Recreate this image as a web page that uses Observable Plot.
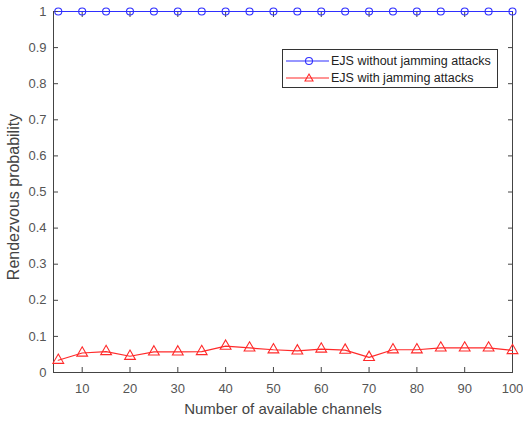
<!DOCTYPE html>
<html>
<head>
<meta charset="utf-8">
<script src="https://cdn.jsdelivr.net/npm/d3@7"></script>
<script src="https://cdn.jsdelivr.net/npm/@observablehq/plot@0.6"></script>
<style>
  html, body { margin: 0; padding: 0; background: #fff; }
  #wrap { position: relative; width: 523px; height: 422px; font-family: "Liberation Sans", Arial, sans-serif; }
  #legend { position: absolute; left: 282px; top: 49px; width: 216px; height: 39px; border: 1px solid #333; background: #fff; box-sizing: border-box; font-size: 12.5px; color: #222; }
  .row { position: absolute; left: 2px; height: 16px; display: flex; align-items: center; }
  .row svg { margin-right: 2px; }
</style>
</head>
<body>
<div id="wrap"></div>
<script>
const channels = [5,10,15,20,25,30,35,40,45,50,55,60,65,70,75,80,85,90,95,100];
const withoutJamming = [1,1,1,1,1,1,1,1,1,1,1,1,1,1,1,1,1,1,1,1];
const withJamming = [0.034,0.054,0.058,0.045,0.057,0.057,0.058,0.073,0.068,0.063,0.060,0.065,0.062,0.042,0.063,0.063,0.068,0.068,0.068,0.061];
const xTicks = [10,20,30,40,50,60,70,80,90,100];
const yTicks = [0,0.1,0.2,0.3,0.4,0.5,0.6,0.7,0.8,0.9,1];
const seriesNames = ["EJS without jamming attacks", "EJS with jamming attacks"];
const blue = "#2f2fff", red = "#ff2a2a";

const dataA = channels.map((c,i) => ({x: c, y: withoutJamming[i]}));
const dataB = channels.map((c,i) => ({x: c, y: withJamming[i]}));
const axisColor = "#444";

const chart = Plot.plot({
  width: 523, height: 422,
  marginLeft: 53, marginRight: 11, marginTop: 11, marginBottom: 50,
  style: {fontFamily: "Liberation Sans, Arial, sans-serif", fontSize: "13px", color: "#444", background: "#fff"},
  x: {domain: [4, 100]},
  y: {domain: [0, 1]},
  marks: [
    Plot.frame({stroke: axisColor, strokeWidth: 1}),
    Plot.axisX({ticks: xTicks, tickSize: -5, tickPadding: 16, tickFormat: d => d, label: null, stroke: axisColor, fill: "#555", fontSize: 13}),
    Plot.axisX({anchor: "top", ticks: xTicks, tickSize: -5, tickFormat: () => "", label: null, stroke: axisColor}),
    Plot.axisY({ticks: yTicks, tickSize: -5, tickPadding: 12, tickFormat: d => String(d), label: null, stroke: axisColor, fill: "#555", fontSize: 13}),
    Plot.axisY({anchor: "right", ticks: yTicks, tickSize: -5, tickFormat: () => "", label: null, stroke: axisColor}),
    Plot.text([seriesNames[0]], {frameAnchor: "bottom", text: () => "Number of available channels", dy: 41, fontSize: 15, fill: "#444"}),
    Plot.text([0], {frameAnchor: "left", textAnchor: "middle", text: () => "Rendezvous probability", rotate: -90, dx: -40, dy: 5, fontSize: 16, fill: "#444"}),
    Plot.line(dataA, {x: "x", y: "y", stroke: blue, strokeWidth: 1.2}),
    Plot.dot(dataA, {x: "x", y: "y", stroke: blue, r: 3.5, strokeWidth: 1.1, fill: "none"}),
    Plot.line(dataB, {x: "x", y: "y", stroke: red, strokeWidth: 1.2}),
    Plot.dot(dataB, {x: "x", y: "y", stroke: red, symbol: "triangle", r: 4, strokeWidth: 1.1, fill: "none"})
  ]
});

const wrap = document.getElementById("wrap");
wrap.appendChild(chart);

const legend = document.createElement("div");
legend.id = "legend";
const colors = [blue, red];
seriesNames.forEach((name, i) => {
  const row = document.createElement("div");
  row.className = "row";
  row.style.top = (3 + i * 17) + "px";
  const marker = i === 0
    ? `<circle cx="24" cy="8" r="3.5" fill="none" stroke="${colors[i]}" stroke-width="1.1"/>`
    : `<path d="M24,4L28,11L20,11Z" fill="none" stroke="${colors[i]}" stroke-width="1.1"/>`;
  row.innerHTML = `<svg width="44" height="16"><line x1="1" y1="8" x2="44" y2="8" stroke="${colors[i]}" stroke-width="1.2"/>${marker}</svg><span>${name}</span>`;
  legend.appendChild(row);
});
wrap.appendChild(legend);
</script>
</body>
</html>
